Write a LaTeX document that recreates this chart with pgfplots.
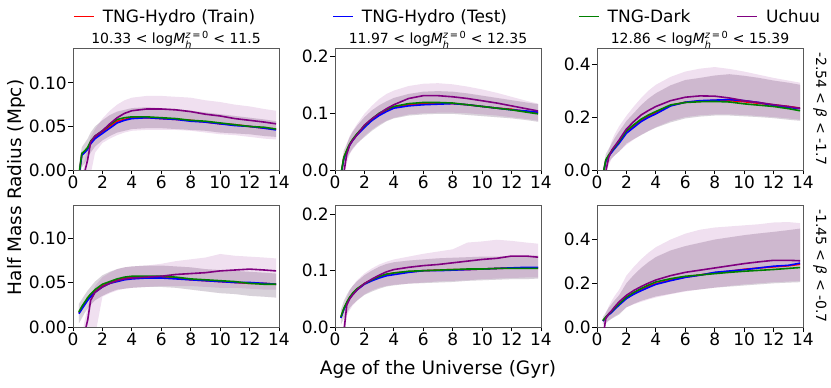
\documentclass[border=0pt]{standalone}
\usepackage{fontspec}
\setmainfont{DejaVu Sans}
\usepackage{amsmath}
\usepackage{pgfplots}
\usepackage{pgfplotstable}
\pgfplotsset{compat=1.18}
\usepgfplotslibrary{groupplots,fillbetween}

\definecolor{mplred}{HTML}{FF0000}
\definecolor{mplblue}{HTML}{0000FF}
\definecolor{mplgreen}{HTML}{008000}
\definecolor{mplpurple}{HTML}{800080}

\newcommand\tickfont{\fontsize{17}{20}\selectfont}
\newcommand\labfont{\fontsize{18.5}{22}\selectfont}
\newcommand\smallfont{\fontsize{14}{17}\selectfont}

% columns: mean of train / test / dark / uchuu, then TNG band and Uchuu band
\pgfplotstableread{
x    tr     te     dk     uc     tlo    thi    ulo    uhi
0.4  -0.008 -0.008 -0.006 -0.040 -0.010 0.005  -0.050 -0.030
0.6  0.018  0.017  0.019  -0.030 0.003  0.026  -0.040 -0.010
0.8  0.021  0.020  0.022  -0.002 0.008  0.031  -0.020 0.012
1.0  0.025  0.024  0.026  0.012  0.014  0.036  -0.015 0.026
1.2  0.031  0.030  0.033  0.032  0.020  0.043  -0.005 0.038
1.5  0.037  0.036  0.039  0.039  0.027  0.050  0.020  0.047
2    0.044  0.042  0.045  0.045  0.034  0.057  0.031  0.059
2.5  0.050  0.048  0.052  0.053  0.039  0.063  0.036  0.068
3    0.056  0.054  0.058  0.060  0.043  0.067  0.040  0.075
3.5  0.058  0.057  0.060  0.065  0.045  0.069  0.043  0.080
4    0.060  0.059  0.061  0.068  0.047  0.071  0.045  0.083
5    0.060  0.060  0.061  0.070  0.048  0.072  0.046  0.085
6    0.059  0.059  0.060  0.070  0.048  0.071  0.046  0.085
7    0.058  0.058  0.059  0.069  0.047  0.070  0.046  0.084
8    0.057  0.056  0.057  0.067  0.046  0.068  0.045  0.083
9    0.055  0.055  0.056  0.064  0.045  0.066  0.043  0.080
10   0.053  0.053  0.054  0.062  0.043  0.064  0.041  0.078
11   0.052  0.051  0.052  0.059  0.042  0.062  0.040  0.075
12   0.050  0.050  0.050  0.057  0.041  0.060  0.038  0.073
13   0.048  0.048  0.049  0.055  0.039  0.058  0.036  0.070
13.8 0.047  0.046  0.047  0.053  0.038  0.056  0.035  0.068
}\tA

\pgfplotstableread{
x    tr     te     dk     uc     tlo    thi    ulo    uhi
0.4  -0.010 -0.010 -0.008 -0.050 -0.020 0.000  -0.060 -0.030
0.6  0.022  0.020  0.022  -0.005 0.008  0.034  -0.020 0.010
0.8  0.034  0.032  0.035  0.028  0.020  0.046  0.012  0.045
1.0  0.045  0.044  0.046  0.044  0.030  0.058  0.028  0.060
1.2  0.053  0.052  0.054  0.052  0.038  0.067  0.036  0.069
1.5  0.063  0.062  0.064  0.062  0.047  0.078  0.046  0.081
2    0.077  0.075  0.078  0.079  0.058  0.093  0.060  0.099
2.5  0.089  0.087  0.090  0.090  0.069  0.105  0.071  0.113
3    0.098  0.096  0.100  0.099  0.078  0.114  0.080  0.125
3.5  0.105  0.103  0.107  0.108  0.086  0.121  0.087  0.134
4    0.111  0.109  0.112  0.115  0.091  0.127  0.092  0.140
5    0.115  0.113  0.117  0.126  0.096  0.134  0.098  0.148
6    0.117  0.115  0.119  0.131  0.098  0.138  0.100  0.152
7    0.118  0.116  0.119  0.131  0.099  0.139  0.101  0.153
8    0.117  0.117  0.118  0.129  0.099  0.138  0.101  0.151
9    0.115  0.115  0.115  0.126  0.097  0.135  0.100  0.147
10   0.112  0.112  0.112  0.122  0.095  0.131  0.098  0.142
11   0.109  0.109  0.109  0.118  0.093  0.127  0.096  0.136
12   0.107  0.106  0.106  0.113  0.091  0.123  0.093  0.129
13   0.103  0.104  0.102  0.108  0.088  0.119  0.090  0.122
13.8 0.101  0.102  0.099  0.104  0.085  0.116  0.087  0.117
}\tB

\pgfplotstableread{
x    tr     te     dk     uc     tlo    thi    ulo    uhi
0.4  -0.020 -0.020 -0.020 -0.100 -0.030 0.000  -0.100 -0.050
0.6  0.036  0.034  0.038  -0.005 0.015  0.060  -0.020 0.030
0.8  0.055  0.052  0.057  0.048  0.030  0.080  0.020  0.075
1.0  0.070  0.067  0.072  0.075  0.045  0.100  0.042  0.110
1.2  0.084  0.081  0.086  0.090  0.055  0.120  0.055  0.135
1.5  0.105  0.101  0.108  0.113  0.070  0.145  0.070  0.165
2    0.143  0.139  0.148  0.155  0.100  0.185  0.095  0.205
2.5  0.165  0.161  0.171  0.183  0.117  0.215  0.115  0.240
3    0.186  0.183  0.192  0.208  0.132  0.245  0.133  0.272
3.5  0.203  0.199  0.208  0.225  0.147  0.270  0.148  0.300
4    0.217  0.212  0.221  0.240  0.160  0.290  0.162  0.322
5    0.244  0.242  0.246  0.262  0.180  0.320  0.185  0.352
6    0.256  0.256  0.255  0.275  0.195  0.340  0.200  0.372
7    0.260  0.262  0.258  0.280  0.202  0.348  0.207  0.383
8    0.263  0.264  0.259  0.279  0.206  0.357  0.210  0.389
9    0.262  0.266  0.257  0.272  0.206  0.362  0.210  0.382
10   0.258  0.262  0.250  0.262  0.203  0.356  0.208  0.372
11   0.252  0.255  0.245  0.255  0.200  0.348  0.204  0.360
12   0.246  0.244  0.240  0.247  0.196  0.338  0.200  0.348
13   0.240  0.236  0.232  0.240  0.190  0.330  0.195  0.338
13.8 0.234  0.232  0.224  0.233  0.186  0.322  0.190  0.330
}\tC

\pgfplotstableread{
x    tr     te     dk     uc     tlo    thi    ulo    uhi
0.4  0.016  0.015  0.017  -0.030 0.004  0.026  -0.040 -0.020
0.6  0.021  0.020  0.023  -0.020 0.010  0.031  -0.030 -0.010
0.8  0.026  0.025  0.028  -0.006 0.016  0.036  -0.020 0.008
1.0  0.031  0.030  0.033  0.008  0.021  0.041  -0.020 0.022
1.2  0.035  0.034  0.037  0.030  0.025  0.045  -0.020 0.034
1.5  0.040  0.039  0.042  0.039  0.030  0.051  -0.010 0.046
2    0.046  0.045  0.048  0.045  0.035  0.058  0.034  0.056
2.5  0.050  0.049  0.051  0.049  0.039  0.062  0.038  0.061
3    0.053  0.051  0.054  0.052  0.042  0.065  0.041  0.065
3.5  0.055  0.053  0.056  0.054  0.043  0.067  0.043  0.067
4    0.056  0.054  0.057  0.055  0.044  0.068  0.044  0.068
5    0.056  0.055  0.057  0.056  0.045  0.069  0.045  0.069
6    0.056  0.055  0.057  0.057  0.045  0.069  0.046  0.071
7    0.055  0.054  0.056  0.059  0.044  0.068  0.046  0.074
8    0.053  0.053  0.054  0.060  0.042  0.067  0.046  0.076
9    0.052  0.052  0.053  0.061  0.040  0.065  0.045  0.078
10   0.051  0.051  0.052  0.063  0.038  0.064  0.044  0.082
11   0.050  0.050  0.051  0.064  0.037  0.063  0.044  0.080
12   0.049  0.050  0.049  0.065  0.035  0.062  0.043  0.079
13   0.049  0.049  0.048  0.064  0.034  0.061  0.042  0.078
13.8 0.048  0.048  0.048  0.063  0.033  0.060  0.042  0.077
}\tD

\pgfplotstableread{
x    tr     te     dk     uc     tlo    thi    ulo    uhi
0.4  0.017  0.016  0.018  -0.050 0.004  0.030  -0.060 -0.030
0.6  0.032  0.031  0.033  -0.010 0.015  0.046  -0.030 0.010
0.8  0.043  0.042  0.044  0.039  0.025  0.057  0.020  0.052
1.0  0.052  0.051  0.053  0.050  0.034  0.066  0.030  0.065
1.2  0.059  0.058  0.060  0.057  0.040  0.073  0.038  0.073
1.5  0.067  0.066  0.068  0.066  0.047  0.081  0.047  0.083
2    0.077  0.076  0.077  0.077  0.057  0.092  0.058  0.095
2.5  0.084  0.082  0.084  0.085  0.063  0.100  0.065  0.104
3    0.089  0.087  0.090  0.092  0.068  0.107  0.070  0.111
3.5  0.093  0.091  0.094  0.098  0.072  0.112  0.073  0.116
4    0.096  0.093  0.096  0.102  0.074  0.115  0.075  0.120
5    0.098  0.097  0.099  0.106  0.077  0.118  0.077  0.125
6    0.100  0.100  0.100  0.109  0.078  0.120  0.079  0.130
7    0.101  0.100  0.101  0.111  0.079  0.122  0.081  0.134
8    0.102  0.101  0.102  0.114  0.080  0.123  0.082  0.138
9    0.102  0.102  0.103  0.117  0.082  0.124  0.083  0.150
10   0.103  0.103  0.103  0.120  0.083  0.125  0.085  0.152
11   0.104  0.104  0.104  0.122  0.084  0.125  0.086  0.155
12   0.105  0.105  0.104  0.126  0.085  0.126  0.087  0.153
13   0.105  0.106  0.104  0.126  0.085  0.126  0.088  0.150
13.8 0.105  0.106  0.104  0.124  0.086  0.127  0.088  0.148
}\tE

\pgfplotstableread{
x    tr     te     dk     uc     tlo    thi    ulo    uhi
0.4  0.028  0.027  0.030  -0.050 0.010  0.045  -0.060 -0.030
0.6  0.044  0.042  0.046  0.040  0.020  0.066  0.015  0.065
0.8  0.058  0.056  0.060  0.060  0.030  0.088  0.028  0.095
1.0  0.070  0.067  0.072  0.075  0.038  0.105  0.040  0.120
1.2  0.085  0.081  0.087  0.092  0.046  0.122  0.050  0.142
1.5  0.104  0.100  0.106  0.115  0.057  0.145  0.062  0.170
2    0.133  0.130  0.137  0.145  0.090  0.200  0.090  0.235
2.5  0.156  0.150  0.158  0.167  0.106  0.238  0.104  0.275
3    0.172  0.166  0.176  0.185  0.120  0.270  0.115  0.310
3.5  0.186  0.181  0.192  0.201  0.130  0.297  0.126  0.340
4    0.198  0.195  0.206  0.215  0.140  0.320  0.135  0.365
5    0.215  0.212  0.221  0.235  0.152  0.350  0.150  0.400
6    0.228  0.227  0.232  0.250  0.165  0.370  0.162  0.427
7    0.238  0.237  0.238  0.260  0.172  0.385  0.172  0.445
8    0.248  0.250  0.244  0.270  0.180  0.400  0.180  0.455
9    0.255  0.256  0.250  0.280  0.185  0.410  0.188  0.460
10   0.264  0.262  0.255  0.290  0.190  0.420  0.195  0.465
11   0.270  0.270  0.259  0.298  0.195  0.428  0.200  0.470
12   0.275  0.278  0.263  0.305  0.200  0.435  0.205  0.478
13   0.280  0.282  0.268  0.305  0.203  0.443  0.208  0.480
13.8 0.287  0.292  0.272  0.303  0.205  0.450  0.210  0.475
}\tF

\newcommand{\panel}[1]{%
  \addplot[draw=none, name path=tl, forget plot] table[x=x,y=tlo]{#1};
  \addplot[draw=none, name path=th, forget plot] table[x=x,y=thi]{#1};
  \addplot[draw=none, name path=ul, forget plot] table[x=x,y=ulo]{#1};
  \addplot[draw=none, name path=uh, forget plot] table[x=x,y=uhi]{#1};
  \addplot[fill=mplred, fill opacity=0.08, draw=none, forget plot] fill between[of=th and tl];
  \addplot[fill=mplblue, fill opacity=0.08, draw=none, forget plot] fill between[of=th and tl];
  \addplot[fill=mplgreen, fill opacity=0.08, draw=none, forget plot] fill between[of=th and tl];
  \addplot[fill=mplpurple, fill opacity=0.12, draw=none, forget plot] fill between[of=uh and ul];
  \addplot[mplred] table[x=x,y=tr]{#1};
  \addplot[mplblue] table[x=x,y=te]{#1};
  \addplot[mplgreen] table[x=x,y=dk]{#1};
  \addplot[mplpurple] table[x=x,y=uc]{#1};
}

\newcommand{\logm}{log\textit{M}$_{\text{\textit{h}}}^{\text{\textit{z}\,=\,0}}$}

\begin{document}
\begin{tikzpicture}
\begin{groupplot}[
    group style={group size=3 by 2, horizontal sep=56pt, vertical sep=35pt},
    scale only axis, width=206pt, height=122pt,
    xmin=0, xmax=14, ymin=0, xtick={0,2,...,14},
    axis line style={black!65},
    tick style={black, line width=0.8pt},
    tick align=outside, major tick length=4.5pt,
    xtick pos=bottom, ytick pos=left,
    scaled ticks=false,
    tick label style={font=\tickfont, /pgf/number format/assume math mode=true},
    xticklabel style={inner sep=1.5pt},
    yticklabel style={inner sep=1.5pt},
    title style={font=\smallfont, yshift=-10pt},
    every axis plot/.append style={line width=1.6pt},
    legend image code/.code={\draw[#1] (0pt,0pt) -- (20pt,0pt);},
]
\nextgroupplot[ymax=0.14, ytick={0,0.05,0.10},
    yticklabel style={/pgf/number format/.cd, fixed, fixed zerofill, precision=2},
    title={10.33 < \logm{} < 11.5},
    legend columns=4,
    legend style={draw=none, fill=none, at={(0,1.32)}, anchor=north west,
        inner sep=0pt, font=\fontsize{17}{20}\selectfont,
        nodes={inner sep=0pt},
        /tikz/every odd column/.append style={column sep=8pt},
        /tikz/column 2/.style={column sep=77pt},
        /tikz/column 4/.style={column sep=71pt},
        /tikz/column 6/.style={column sep=46pt}}]
  \panel{\tA}
  \legend{TNG-Hydro (Train), TNG-Hydro (Test), TNG-Dark, Uchuu}
\nextgroupplot[ymax=0.215, ytick={0,0.1,0.2},
    yticklabel style={/pgf/number format/.cd, fixed, fixed zerofill, precision=1},
    title={11.97 < \logm{} < 12.35}]
  \panel{\tB}
\nextgroupplot[ymax=0.461, ytick={0,0.2,0.4},
    yticklabel style={/pgf/number format/.cd, fixed, fixed zerofill, precision=1},
    title={12.86 < \logm{} < 15.39}]
  \panel{\tC}
\nextgroupplot[ymax=0.137, ytick={0,0.05,0.10},
    yticklabel style={/pgf/number format/.cd, fixed, fixed zerofill, precision=2}]
  \panel{\tD}
\nextgroupplot[ymax=0.2167, ytick={0,0.1,0.2},
    yticklabel style={/pgf/number format/.cd, fixed, fixed zerofill, precision=1}]
  \panel{\tE}
\nextgroupplot[ymax=0.558, ytick={0,0.2,0.4},
    yticklabel style={/pgf/number format/.cd, fixed, fixed zerofill, precision=1}]
  \panel{\tF}
\end{groupplot}
\node[rotate=90, font=\labfont] at ([shift={(-57pt,139.5pt)}]group c1r2.south west) {Half Mass Radius (Mpc)};
\node[anchor=base, font=\labfont] at ([yshift=-48pt]group c2r2.south) {Age of the Universe (Gyr)};
\node[rotate=-90, anchor=south, inner sep=0pt, font=\smallfont] at ([xshift=10pt]group c3r1.east) {-2.54 < \textit{β} < -1.7};
\node[rotate=-90, anchor=south, inner sep=0pt, font=\smallfont] at ([xshift=10pt]group c3r2.east) {-1.45 < \textit{β} < -0.7};
\path[use as bounding box] ([shift={(-73pt,48pt)}]group c1r1.north west) rectangle ++(831pt,-388pt);
\end{tikzpicture}
\end{document}
